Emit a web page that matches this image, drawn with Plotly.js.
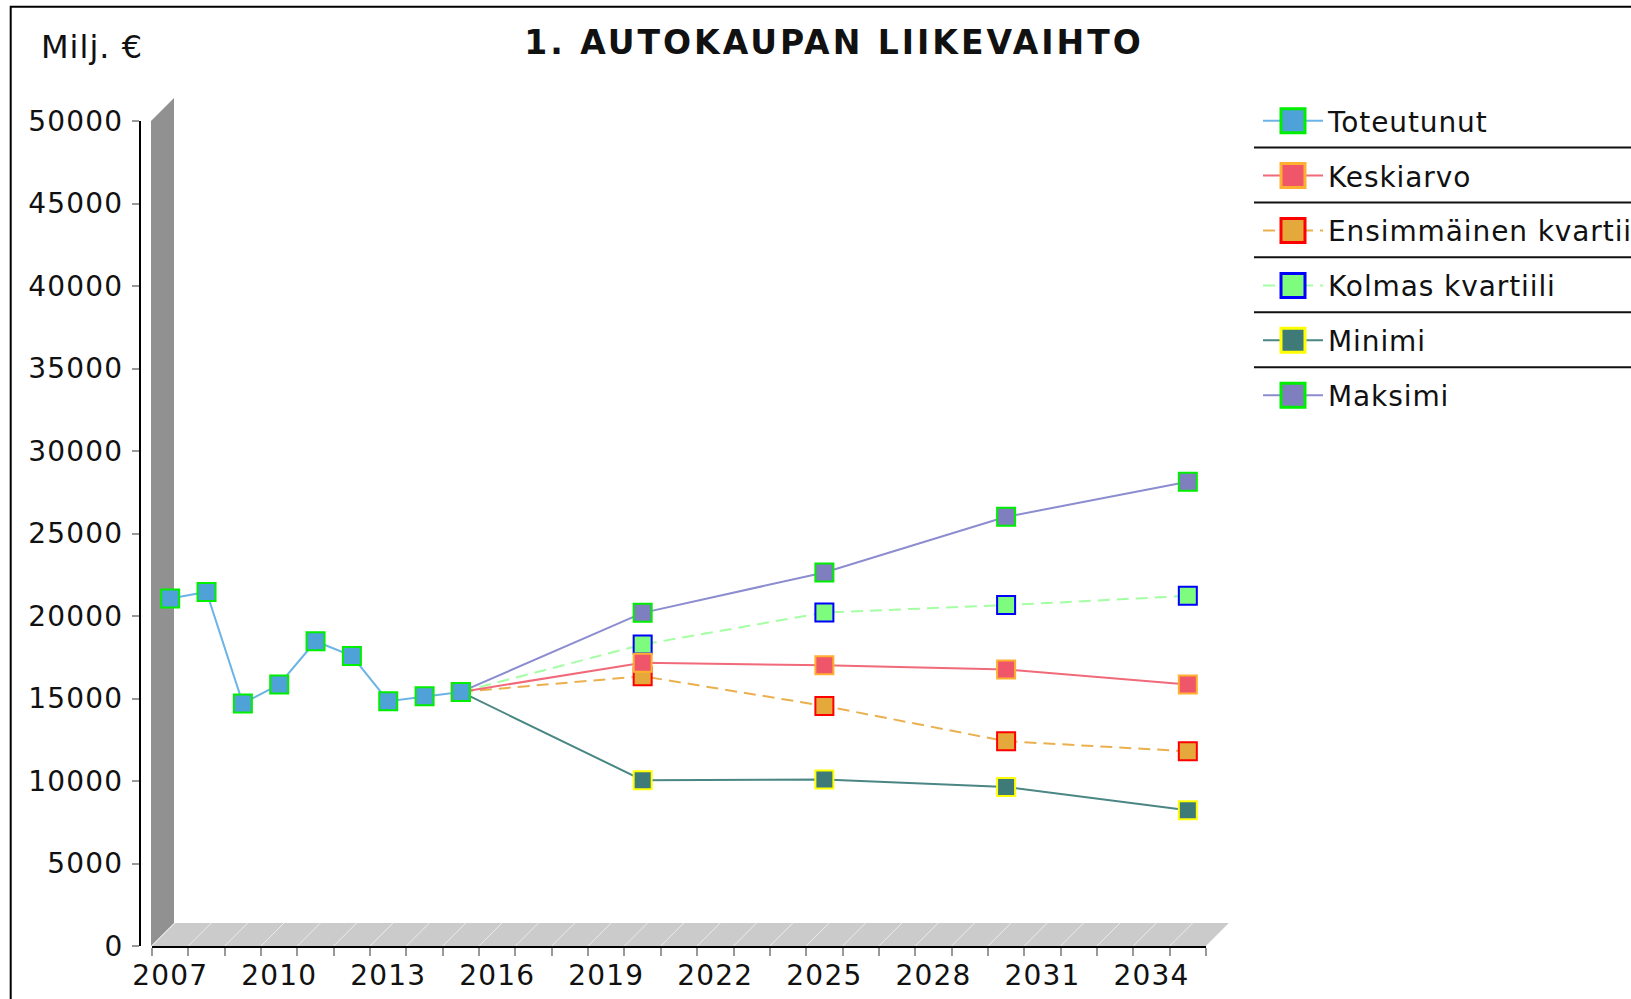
<!DOCTYPE html>
<html>
<head>
<meta charset="utf-8">
<script src="https://cdn.plot.ly/plotly-3.0.1.min.js"></script>
<style>
  html, body { margin: 0; padding: 0; background: #fff; }
  #chart { width: 1631px; height: 999px; }
  .gtitle { letter-spacing: 3px; }
  .xtick text, .ytick text { letter-spacing: 1.2px; }
  .legendtext { letter-spacing: 0.9px; }
  .annotation-text { letter-spacing: 1px; }
</style>
</head>
<body>
<div id="chart"></div>
<script>
// ---- data ----
const histYears = [2007, 2008, 2009, 2010, 2011, 2012, 2013, 2014, 2015];
const toteutunut = [21060, 21460, 14700, 15850, 18470, 17580, 14840, 15140, 15400];

const forecastYears = [2020, 2025, 2030, 2035];
const keskiarvo   = [17160, 17020, 16760, 15850];
const ensimmainen = [16350, 14550, 12410, 11800];
const kolmas      = [18270, 20210, 20660, 21220];
const minimi      = [10050, 10090, 9640, 8230];
const maksimi     = [20190, 22640, 26010, 28130];

const xTickYears = [2007, 2010, 2013, 2016, 2019, 2022, 2025, 2028, 2031, 2034];
const yTickValues = [0, 5000, 10000, 15000, 20000, 25000, 30000, 35000, 40000, 45000, 50000];

const seriesNames = {
  tot: 'Toteutunut', kes: 'Keskiarvo', ens: 'Ensimmäinen kvartiili',
  kol: 'Kolmas kvartiili', min: 'Minimi', max: 'Maksimi'
};

// ---- layout geometry (pixels) ----
const W = 1631, H = 999;
const M = { l: 140, r: 425, t: 121, b: 53.3 };
const PW = W - M.l - M.r, PH = H - M.t - M.b;
const GAP = 12;                      // gap between y axis line and front plane
const xRange = [2006.5, 2035.5];
const yRange = [0, 50000];
const DEPTH = 23;
const px2x = p => (p - M.l) / PW;
const py2y = p => (H - M.b - p) / PH;
const xPix = v => M.l + GAP + (v - xRange[0]) / (xRange[1] - xRange[0]) * (PW - GAP);
const yPix = v => H - M.b - (v - yRange[0]) / (yRange[1] - yRange[0]) * PH;
const P = (x, y) => `${px2x(x)},${py2y(y)}`;

const font = 'DejaVu Sans, Verdana, sans-serif';

// forecast series start from last observed point
const lastYear = histYears[histYears.length - 1];
const lastVal = toteutunut[toteutunut.length - 1];
const fx = [lastYear].concat(forecastYears);
const fy = arr => [lastVal].concat(arr);

function tr(name, x, y, lineColor, dash, fill, border, rank) {
  return {
    type: 'scatter', mode: 'lines+markers', name: name, x: x, y: y,
    legendgroup: name, legendrank: rank,
    line: { color: lineColor, width: 2, dash: dash },
    marker: { symbol: 'square', size: 18, color: fill, line: { color: border, width: 2 } },
    hoverinfo: 'x+y+name'
  };
}

const traces = [
  tr(seriesNames.max, fx, fy(maksimi), '#8c8cd0', 'solid', '#7f7fbf', '#00ee00', 6),
  tr(seriesNames.min, fx, fy(minimi), '#4a8684', 'solid', '#3e7b78', '#ffff00', 5),
  tr(seriesNames.ens, fx, fy(ensimmainen), '#ebb04e', '12px,7px', '#e5a83a', '#ff0000', 3),
  tr(seriesNames.kol, fx, fy(kolmas), '#a4ffa4', '12px,7px', '#7dfc7d', '#0000ff', 4),
  tr(seriesNames.kes, fx, fy(keskiarvo), '#f06a7a', 'solid', '#f0566a', '#ffb030', 2),
  tr(seriesNames.tot, histYears, toteutunut, '#6cb4e6', 'solid', '#4fa2d8', '#00ee00', 1)
];

// ---- decorative 3D wall, floor and frame ----
const shapes = [];
const fx0 = xPix(xRange[0]), fx1 = xPix(xRange[1]);
const fy0 = yPix(yRange[0]), fyTop = yPix(yRange[1]);
// left wall
shapes.push({
  type: 'path', layer: 'below', xref: 'paper', yref: 'paper',
  path: `M ${P(fx0 - 1, fy0)} L ${P(fx0 - 1 + DEPTH, fy0 - DEPTH)} L ${P(fx0 - 1 + DEPTH, fyTop - DEPTH)} L ${P(fx0 - 1, fyTop)} Z`,
  fillcolor: '#919191', line: { width: 0 }
});
// floor
shapes.push({
  type: 'path', layer: 'below', xref: 'paper', yref: 'paper',
  path: `M ${P(fx0, fy0)} L ${P(fx0 + DEPTH, fy0 - DEPTH)} L ${P(fx1 + DEPTH, fy0 - DEPTH)} L ${P(fx1, fy0)} Z`,
  fillcolor: '#cbcbcb', line: { width: 0 }
});
// floor grid lines (one per category boundary)
for (let v = xRange[0]; v <= xRange[1] + 1e-9; v += 1) {
  const xp = xPix(v);
  shapes.push({
    type: 'line', layer: 'below', xref: 'paper', yref: 'paper',
    x0: px2x(xp), x1: px2x(xp + DEPTH), y0: py2y(fy0), y1: py2y(fy0 - DEPTH),
    line: { color: '#ececec', width: 1 }
  });
}
// outer frame
shapes.push({
  type: 'rect', layer: 'above', xref: 'paper', yref: 'paper',
  x0: px2x(10.7), x1: px2x(W + 40), y0: py2y(H + 40), y1: py2y(6.7),
  line: { color: '#000', width: 2 }, fillcolor: 'rgba(0,0,0,0)'
});
// legend separators
const legTop = 122, legPitch = 54.9;
for (let i = 0; i < 5; i++) {
  const yy = legTop + legPitch * (i + 0.5) - 2;
  shapes.push({
    type: 'line', layer: 'above', xref: 'paper', yref: 'paper',
    x0: px2x(1254), x1: px2x(W + 40), y0: py2y(yy), y1: py2y(yy),
    line: { color: '#111', width: 2 }
  });
}

const layout = {
  width: W, height: H,
  margin: M,
  paper_bgcolor: '#fff', plot_bgcolor: 'rgba(0,0,0,0)',
  font: { family: font, size: 28, color: '#111' },
  title: {
    text: '1. AUTOKAUPAN LIIKEVAIHTO',
    font: { family: font, size: 33, weight: 'bold', color: '#111' },
    xref: 'container', x: 834 / W, xanchor: 'center',
    yref: 'container', y: 1 - 42 / H, yanchor: 'middle'
  },
  showlegend: true,
  legend: {
    xref: 'container', yref: 'container',
    x: 1258 / W, xanchor: 'left', y: 1 - 96 / H, yanchor: 'top',
    traceorder: 'grouped', tracegroupgap: 15.5,
    itemwidth: 60,
    font: { family: font, size: 28, color: '#111' },
    bgcolor: 'rgba(0,0,0,0)', borderwidth: 0
  },
  xaxis: {
    range: xRange, domain: [px2x(M.l + GAP), 1],
    showgrid: false, zeroline: false,
    showline: true, linecolor: '#000', linewidth: 2,
    tickmode: 'array', tickvals: xTickYears, ticktext: xTickYears.map(String),
    ticks: '', ticklabelstandoff: 3,
    tickfont: { family: font, size: 28, color: '#111' },
    minor: { ticks: 'outside', ticklen: 8, tickwidth: 2, tickcolor: '#999', tick0: xRange[0], dtick: 1, showgrid: false },
    fixedrange: true
  },
  yaxis: {
    range: yRange, anchor: 'free', position: 0,
    showgrid: false, zeroline: false,
    showline: true, linecolor: '#000', linewidth: 2,
    tickmode: 'array', tickvals: yTickValues, ticktext: yTickValues.map(String),
    ticks: 'outside', ticklen: 7, tickwidth: 2, tickcolor: '#999',
    ticklabelstandoff: 3,
    tickfont: { family: font, size: 28, color: '#111' },
    fixedrange: true
  },
  shapes: shapes,
  annotations: [{
    text: 'Milj. €', xref: 'paper', yref: 'paper',
    x: px2x(39), xanchor: 'left', y: py2y(47), yanchor: 'middle',
    showarrow: false, font: { family: font, size: 32, color: '#111' }
  }]
};

Plotly.newPlot('chart', traces, layout, { displayModeBar: false }).then(gd => {
  // enlarge the legend marker squares to match the reference symbol size
  gd.querySelectorAll('.legend .legendpoints path.scatterpts').forEach(p => {
    const t = p.getAttribute('transform') || '';
    if (t.indexOf('scale') < 0) p.setAttribute('transform', t + ' scale(1.5)');
  });
});
</script>
</body>
</html>
